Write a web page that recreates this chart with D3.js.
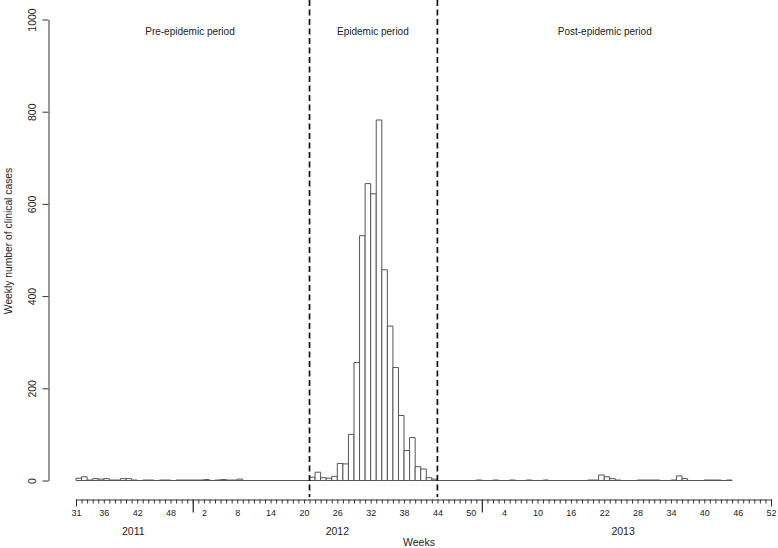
<!DOCTYPE html>
<html>
<head>
<meta charset="utf-8">
<script src="https://cdn.jsdelivr.net/npm/d3@7"></script>
<style>
  html, body { margin: 0; padding: 0; background: #fff; }
  svg { display: block; font-family: "Liberation Sans", Arial, Helvetica, sans-serif; }
</style>
</head>
<body>
<svg id="chart" width="778" height="548"></svg>
<script>
// ---- data ----
// weekly clinical cases, from 2011 week 31 (index 0) to 2013 week 44 (index 117)
const preEpidemicCases = [5, 8, 1, 4, 3, 4, 1, 1, 4, 4, 1, 0, 1, 1, 0, 1, 1, 0, 1, 1, 1, 1,
  1, 2, 0, 1, 2, 1, 1, 3, 0, 0, 0, 0, 0, 0, 0, 0, 0, 0, 0, 0];
const epidemicCases = [7, 18, 6, 5, 9, 37, 36, 100, 256, 531, 644, 622, 782, 457, 335, 245,
  141, 65, 93, 30, 25, 6, 3];
const postEpidemicCases = [0, 0, 0, 0, 0, 0, 0, 1, 0, 0, 1, 0, 0, 1, 0, 0, 1, 0, 0, 1,
  0, 0, 0, 0, 0, 0, 0, 1, 1, 12, 8, 4, 1, 0, 0, 0, 1, 1, 1, 1, 0, 0, 1, 10, 4, 0, 0, 0,
  1, 1, 1, 0, 1];
const cases = preEpidemicCases.concat(epidemicCases, postEpidemicCases);

// x axis: week slots (2011 w31 .. 2013 w52)
const nSlots = 126;
const weekTickLabels = [31, 36, 42, 48, 2, 8, 14, 20, 26, 32, 38, 44, 50, 4, 10, 16, 22, 28, 34, 40, 46, 52];
const weekTickIndex  = [0, 5, 11, 17, 23, 29, 35, 41, 47, 53, 59, 65, 71, 77, 83, 89, 95, 101, 107, 113, 119, 125];
const yearEndIndex = [21, 73];
const yearLabels = ["2011", "2012", "2013"];
const yearLabelIndex = [10.3, 47.0, 98.4];
const periodLabels = ["Pre-epidemic period", "Epidemic period", "Post-epidemic period"];
const periodLabelIndex = [20.5, 53.4, 95.1];
const periodBoundaryIndex = [42, 65];
const yTicks = [0, 200, 400, 600, 800, 1000];

// ---- layout ----
const svg = d3.select("#chart");
const x = d3.scaleLinear().domain([0, nSlots - 1]).range([76, 771]);
const y = d3.scaleLinear().domain([0, 1000]).range([480.5, 19.5]);
const axisY = 499.5;
const ink = "#333";

// bars (paths so that zero-height bars still draw their outline)
svg.append("g").selectAll("path").data(cases).join("path")
  .attr("d", (d, i) => {
    const x0 = x(i), x1 = x(i + 1), y0 = y(0), y1 = y(d);
    return `M${x0},${y0}V${y1}H${x1}V${y0}Z`;
  })
  .attr("fill", "#fff")
  .attr("stroke", "#555")
  .attr("stroke-width", 1);

// period boundaries
svg.append("g").selectAll("line").data(periodBoundaryIndex).join("line")
  .attr("x1", d => x(d)).attr("x2", d => x(d))
  .attr("y1", 0).attr("y2", 497)
  .attr("stroke", "#111").attr("stroke-width", 1.7)
  .attr("stroke-dasharray", "6,3.5");

// period labels
svg.append("g").selectAll("text").data(periodLabels).join("text")
  .attr("x", (d, i) => x(periodLabelIndex[i]))
  .attr("y", 35)
  .attr("text-anchor", "middle")
  .attr("font-size", 10)
  .attr("fill", "#222")
  .text(d => d);

// y axis
const gy = svg.append("g").attr("transform", "translate(48.5,0)")
  .call(d3.axisLeft(y).tickValues(yTicks).tickSize(6).tickSizeOuter(0).tickFormat(d3.format("d")));
gy.select(".domain").attr("stroke", ink);
gy.selectAll(".tick line").attr("stroke", ink);
gy.selectAll(".tick text")
  .attr("font-size", 10.5).attr("fill", "#222")
  .attr("font-family", "Liberation Sans, Arial, sans-serif")
  .attr("text-anchor", "middle")
  .attr("x", 0).attr("dy", 0)
  .attr("transform", "translate(-12.5,0) rotate(-90)");

svg.append("text")
  .attr("transform", `translate(11.5,241) rotate(-90)`)
  .attr("text-anchor", "middle")
  .attr("font-size", 10.3)
  .attr("fill", "#222")
  .text("Weekly number of clinical cases");

// x axis: minor ticks
const gx = svg.append("g").attr("transform", `translate(0,${axisY})`)
  .call(d3.axisBottom(x).tickValues(d3.range(nSlots)).tickSize(4).tickSizeOuter(0).tickFormat(""));
gx.select(".domain").attr("stroke", ink);
gx.selectAll(".tick line").attr("stroke", ink);

// end ticks
const gxEnd = svg.append("g").attr("transform", `translate(0,${axisY})`)
  .call(d3.axisBottom(x).tickValues([0, nSlots - 1]).tickSize(7).tickSizeOuter(0).tickFormat(""));
gxEnd.select(".domain").remove();
gxEnd.selectAll(".tick line").attr("stroke", ink);

// year-end ticks
const gxYear = svg.append("g").attr("transform", `translate(0,${axisY})`)
  .call(d3.axisBottom(x).tickValues(yearEndIndex).tickSize(13).tickSizeOuter(0).tickFormat(""));
gxYear.select(".domain").remove();
gxYear.selectAll(".tick line").attr("stroke", ink).attr("stroke-width", 1.3);

// week labels
const gxLab = svg.append("g").attr("transform", `translate(0,${axisY})`)
  .call(d3.axisBottom(x).tickValues(weekTickIndex).tickSize(0)
    .tickFormat((d, i) => weekTickLabels[i]));
gxLab.select(".domain").remove();
gxLab.selectAll(".tick text")
  .attr("font-size", 9).attr("fill", "#222")
  .attr("font-family", "Liberation Sans, Arial, sans-serif")
  .attr("y", 16).attr("dy", 0);

// year labels
svg.append("g").selectAll("text").data(yearLabels).join("text")
  .attr("x", (d, i) => x(yearLabelIndex[i]))
  .attr("y", 535)
  .attr("text-anchor", "middle")
  .attr("font-size", 10.5)
  .attr("fill", "#222")
  .text(d => d);

svg.append("text")
  .attr("x", 419).attr("y", 545.5)
  .attr("text-anchor", "middle")
  .attr("font-size", 10.5)
  .attr("fill", "#222")
  .text("Weeks");
</script>
</body>
</html>
